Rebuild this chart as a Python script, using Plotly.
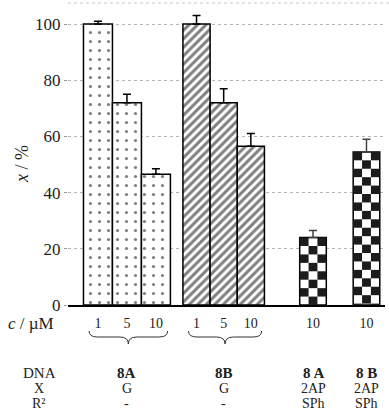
import plotly.graph_objects as go

# ---- data ----
conc_8A = ["1", "5", "10"]
conc_8B = ["1", "5", "10"]
conc_2AP = ["10", "10"]
x_8A = [100.0, 72.0, 46.5]
err_8A = [1.0, 3.0, 2.0]
x_8B = [100.0, 72.0, 56.5]
err_8B = [3.0, 5.0, 4.5]
x_2AP = [24.0, 54.5]
err_2AP = [2.5, 4.5]
dna_row = ["8A", "8B", "8 A", "8 B"]
x_row = ["G", "G", "2AP", "2AP"]
r2_row = ["-", "-", "SPh", "SPh"]
row_labels = ["DNA", "X", "R²"]
y_ticks = [0, 20, 40, 60, 80, 100]

# ---- layout constants (positions on a numeric x axis) ----
W, H = 389, 411
ML, MR, MT, MB = 68, 4, 10, 106
PW, PH = W - ML - MR, H - MT - MB
XMAX = PW / 28.0
YMAX = 105
w8A, w8B, w2 = 1.035, 0.97, 0.95
pos_8A = [1.07 + k * w8A for k in range(3)]
pos_8B = [4.59 + k * w8B for k in range(3)]
pos_2AP = [8.75, 10.66]

FONT = "Liberation Serif"
BLACK = "#000000"
TXT = "#222222"


def px_x(p):
    return (p - ML) / PW


def px_y(p):
    return (H - MB - p) / PH


fig = go.Figure()

fig.add_bar(
    x=pos_8A, y=x_8A, width=w8A,
    marker=dict(color="white", line=dict(color=BLACK, width=1.5),
                pattern=dict(shape=".", fgcolor=BLACK, bgcolor="white", size=9, solidity=0.1)),
    error_y=dict(type="data", array=err_8A, arrayminus=[0] * 3, symmetric=False,
                 color=BLACK, thickness=1.5, width=4),
    showlegend=False,
)
fig.add_bar(
    x=pos_8B, y=x_8B, width=w8B,
    marker=dict(color="white", line=dict(color=BLACK, width=1.5),
                pattern=dict(shape="/", fgcolor=BLACK, bgcolor="white", size=6, solidity=0.5)),
    error_y=dict(type="data", array=err_8B, arrayminus=[0] * 3, symmetric=False,
                 color=BLACK, thickness=1.5, width=4),
    showlegend=False,
)
fig.add_bar(
    x=pos_2AP, y=x_2AP, width=w2,
    marker=dict(color="white", line=dict(color=BLACK, width=1.5)),
    error_y=dict(type="data", array=err_2AP, arrayminus=[0] * 2, symmetric=False,
                 color="#444", thickness=1.5, width=4),
    showlegend=False,
)

shapes = []
# checkerboard fill for the 2AP bars (cells computed from bar value)
cell_h = 3.0
for xc, val in zip(pos_2AP, x_2AP):
    left = xc - w2 / 2
    cw = w2 / 3
    r = 0
    top = val
    while top > 0:
        bot = max(0, top - cell_h)
        for c in range(3):
            if (r + c) % 2 == 0:
                shapes.append(dict(type="rect", xref="x", yref="y",
                                   x0=left + c * cw, x1=left + (c + 1) * cw,
                                   y0=bot, y1=top, fillcolor="#1c1c1c",
                                   line=dict(width=0), layer="above"))
        top = bot
        r += 1


def brace(x0, x1):
    yt, ym, yb = px_y(331), px_y(337), px_y(344)
    xm = (x0 + x1) / 2
    d = 0.3
    p = (f"M {x0},{yt} Q {x0},{ym} {x0 + d},{ym} L {xm - d},{ym} "
         f"Q {xm},{ym} {xm},{yb} Q {xm},{ym} {xm + d},{ym} "
         f"L {x1 - d},{ym} Q {x1},{ym} {x1},{yt}")
    return dict(type="path", xref="x", yref="paper", path=p,
                line=dict(color="#333", width=1))


shapes.append(brace(pos_8A[0] - w8A / 2 + 0.2, pos_8A[-1] + w8A / 2 - 0.1))
shapes.append(brace(pos_8B[0] - w8B / 2 + 0.2, pos_8B[-1] + w8B / 2 - 0.1))
# faint scan line at the very top
shapes.append(dict(type="line", xref="paper", yref="paper", x0=0.0, x1=px_x(389),
                   y0=px_y(3), y1=px_y(3), line=dict(color="#c8c8c8", width=1, dash="dot")))


def ann(text, x, y, xref="paper", size=15, angle=0):
    return dict(text=text, xref=xref, yref="paper", x=x, y=y, textangle=angle,
                xanchor="center", yanchor="middle", showarrow=False,
                font=dict(family=FONT, size=size, color=TXT))


annotations = []
annotations.append(ann("<i>x</i> / %", px_x(22), px_y(164), angle=-90, size=18))
annotations.append(ann("<i>c</i> / µM", px_x(31), px_y(323), size=17))
row_y = [px_y(373), px_y(388), px_y(403)]
row_size = [15, 14, 14]
for lab, yy, sz in zip(row_labels, row_y, row_size):
    annotations.append(ann(lab, px_x(39), yy, size=sz))
centers = [pos_8A[1], pos_8B[1], pos_2AP[0], pos_2AP[1]]
for xc, a, b, c in zip(centers, dna_row, x_row, r2_row):
    annotations.append(ann(f"<b>{a}</b>", xc, row_y[0], xref="x", size=row_size[0]))
    annotations.append(ann(b, xc, row_y[1], xref="x", size=row_size[1]))
    annotations.append(ann(c, xc, row_y[2], xref="x", size=row_size[2]))

fig.update_layout(
    width=W, height=H,
    margin=dict(l=ML, r=MR, t=MT, b=MB),
    paper_bgcolor="white", plot_bgcolor="white",
    barmode="overlay",
    shapes=shapes, annotations=annotations,
    xaxis=dict(range=[0, XMAX], showgrid=False, zeroline=False,
               showline=True, linecolor=BLACK, linewidth=1.5,
               tickvals=pos_8A + pos_8B + pos_2AP,
               ticktext=conc_8A + conc_8B + conc_2AP,
               ticks="outside", ticklen=4, tickcolor="rgba(0,0,0,0)",
               tickfont=dict(family=FONT, size=14, color=TXT)),
    yaxis=dict(range=[0, YMAX], tickvals=y_ticks, showgrid=True,
               gridcolor="#b4b4b4", griddash="dot", gridwidth=1,
               zeroline=False, showline=False,
               ticks="outside", ticklen=3, tickcolor="#999",
               tickfont=dict(family=FONT, size=17, color=TXT)),
)

fig.write_html("out.html", config={"displayModeBar": False})

# remove the default page margin so the figure sits at the window's corner
with open("out.html", encoding="utf-8") as f:
    html = f.read()
html = html.replace("<head>", "<head><style>body{margin:0;padding:0;}</style>", 1)
with open("out.html", "w", encoding="utf-8") as f:
    f.write(html)
